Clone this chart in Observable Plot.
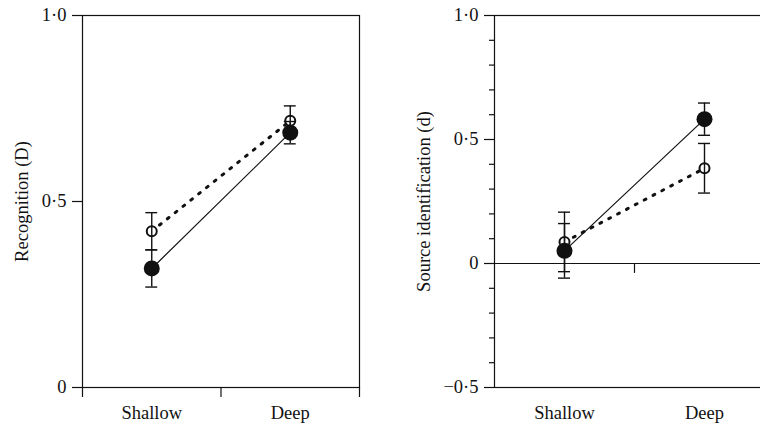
<!DOCTYPE html>
<html><head><meta charset="utf-8">
<script src="https://cdn.jsdelivr.net/npm/d3@7"></script>
<script src="https://cdn.jsdelivr.net/npm/@observablehq/plot@0.6"></script>
<style>
html,body{margin:0;padding:0;background:#fff;overflow:hidden;}
#wrap{position:relative;width:760px;height:426px;overflow:hidden;background:#fff;}
#left{position:absolute;left:0;top:0;}
#right{position:absolute;left:380px;top:0;width:400px;}
#wrap svg{max-width:none !important;}
</style></head><body>
<div id="wrap"><div id="left"></div><div id="right"></div></div>
<script>
// Categories
const conditions = ["Shallow", "Deep"];

// Recognition (D): filled circles (solid line) and open circles (dotted line)
const recogFilled = [0.32, 0.685];
const recogFilledErr = [0.05, 0.03];
const recogOpen = [0.42, 0.717];
const recogOpenErr = [0.05, 0.04];

// Source identification (d)
const sourceFilled = [0.051, 0.582];
const sourceFilledErr = [0.11, 0.065];
const sourceOpen = [0.087, 0.384];
const sourceOpenErr = [0.12, 0.10];

// Tick values
const recogTicks = [0, 0.5, 1.0];
const sourceTicks = [-0.5, 0, 0.5, 1.0];
const sourceMinorTicks = [-0.4, -0.3, -0.2, -0.1, 0.1, 0.2, 0.3, 0.4, 0.6, 0.7, 0.8, 0.9];

const fmt = d => d === 0 ? "0" : (d < 0 ? "\u2212" : "") + Math.abs(d).toFixed(1).replace(".", "\u00B7");
const rows = (vals, errs) => conditions.map((c, i) => ({cond: c, x: i + 0.5, y: vals[i], e: errs[i]}));
const capHalf = 0.043;
const ink = "#111";
const font = "'Liberation Serif', 'Times New Roman', serif";
const fs = 18.5;

function panel({filled, filledErr, open, openErr, domain, ticks, minor, label, width, marginLeft, marginRight, labelOffset, zeroLine}) {
  const F = rows(filled, filledErr);
  const O = rows(open, openErr);
  const both = F.concat(O);
  const marks = [
    Plot.frame({stroke: ink, strokeWidth: 1.2}),
  ];
  if (zeroLine) {
    marks.push(Plot.ruleY([0], {stroke: ink, strokeWidth: 1.2}));
    marks.push(Plot.ruleX([1], {y1: 0, y2: -0.04, stroke: ink, strokeWidth: 1.2}));
  } else {
    marks.push(Plot.axisX({ticks: [0, 1, 2], tickSize: 10, tickFormat: () => "", label: null, stroke: ink, strokeWidth: 1.2}));
  }
  marks.push(
    Plot.line(F, {x: "x", y: "y", stroke: ink, strokeWidth: 1.2}),
    Plot.line(O, {x: "x", y: "y", stroke: ink, strokeWidth: 3, strokeDasharray: "2,8"}),
    Plot.dot(O, {x: "x", y: "y", r: 5, fill: "#fff", stroke: ink, strokeWidth: 2}),
    Plot.dot(F, {x: "x", y: "y", r: 8, fill: ink}),
    Plot.ruleX(both, {x: "x", y1: d => d.y - d.e, y2: d => d.y + d.e, stroke: ink, strokeWidth: 1.4}),
    Plot.ruleY(both, {y: d => d.y + d.e, x1: d => d.x - capHalf, x2: d => d.x + capHalf, stroke: ink, strokeWidth: 1.4}),
    Plot.ruleY(both, {y: d => d.y - d.e, x1: d => d.x - capHalf, x2: d => d.x + capHalf, stroke: ink, strokeWidth: 1.4}),
    Plot.axisX({ticks: [0.5, 1.5], tickSize: 0, tickPadding: 18, tickFormat: d => conditions[Math.floor(d)], label: null, fill: ink, fontSize: fs, fontFamily: font}),
    Plot.axisY({ticks, tickSize: 10, tickPadding: 6, tickFormat: fmt, stroke: ink, strokeWidth: 1.2, fill: ink, fontSize: fs, fontFamily: font,
      label, labelAnchor: "center", labelOffset, labelArrow: "none"})
  );
  if (minor) {
    marks.push(Plot.axisY({ticks: minor, tickSize: 5, tickFormat: () => "", label: null, stroke: ink, strokeWidth: 1.2}));
  }
  return Plot.plot({
    width, height: 426, marginLeft, marginRight, marginTop: 15, marginBottom: 39,
    style: {fontFamily: font, fontSize: fs + "px", color: ink, background: "#fff", maxWidth: "none"},
    x: {domain: [0, 2]},
    y: {domain},
    marks
  });
}

document.getElementById("left").append(panel({
  filled: recogFilled, filledErr: recogFilledErr, open: recogOpen, openErr: recogOpenErr,
  domain: [0, 1], ticks: recogTicks, minor: null, label: "Recognition (D)",
  width: 380, marginLeft: 82, marginRight: 21, labelOffset: 68, zeroLine: false
}));
document.getElementById("right").append(panel({
  filled: sourceFilled, filledErr: sourceFilledErr, open: sourceOpen, openErr: sourceOpenErr,
  domain: [-0.5, 1], ticks: sourceTicks, minor: sourceMinorTicks, label: "Source identification (d)",
  width: 400, marginLeft: 114, marginRight: 6, labelOffset: 78, zeroLine: true
}));
</script>
</body></html>
